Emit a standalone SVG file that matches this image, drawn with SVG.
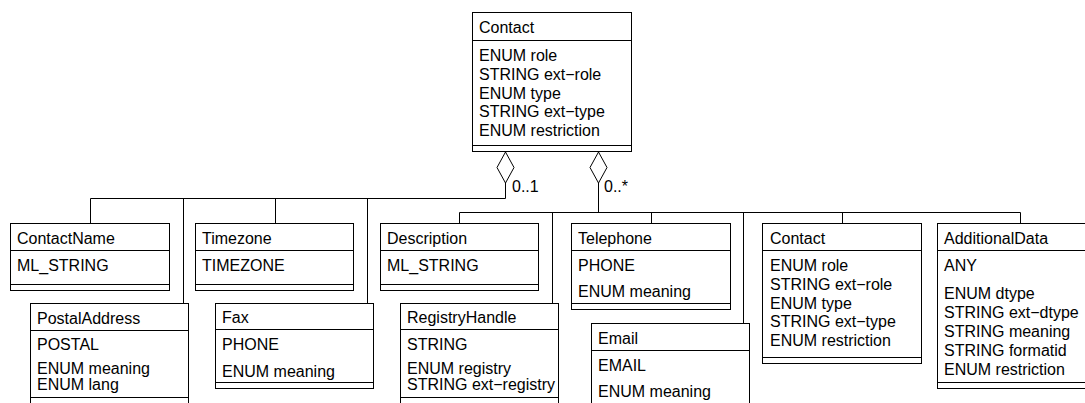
<svg xmlns="http://www.w3.org/2000/svg" width="1085" height="403" viewBox="0 0 1085 403">
<style>
rect.box{fill:#fff;stroke:#000;stroke-width:1}
line,path,polyline{stroke:#000;stroke-width:1;fill:none}
polygon.dia{fill:#fff;stroke:#000;stroke-width:1}
text{font-family:"Liberation Sans",Arial,sans-serif;font-size:16px;fill:#000}
</style>
<rect width="1085" height="403" fill="#fff"/>
<g id="connectors">
<polygon class="dia" points="505.5,152 514,167.5 505.5,183 497,167.5"/>
<polyline points="505.5,183 505.5,198.5 90.5,198.5 90.5,224"/>
<line x1="183.5" y1="198.5" x2="183.5" y2="304"/>
<line x1="275.5" y1="198.5" x2="275.5" y2="224"/>
<line x1="367.5" y1="198.5" x2="367.5" y2="304"/>
<text x="512" y="192">0..1</text>
<polygon class="dia" points="598.5,152 607,167.5 598.5,183 590,167.5"/>
<line x1="598.5" y1="183" x2="598.5" y2="212.5"/>
<line x1="459.5" y1="212.5" x2="1020.5" y2="212.5"/>
<line x1="459.5" y1="212.5" x2="459.5" y2="224"/>
<line x1="552.5" y1="212.5" x2="552.5" y2="304"/>
<line x1="651.5" y1="212.5" x2="651.5" y2="224"/>
<line x1="743.5" y1="212.5" x2="743.5" y2="324"/>
<line x1="842.5" y1="212.5" x2="842.5" y2="224"/>
<line x1="1020.5" y1="212.5" x2="1020.5" y2="224"/>
<text x="604" y="192">0..*</text>
</g>
<g id="contact-top">
<rect class="box" x="472.5" y="12.5" width="159" height="139"/>
<line x1="472.5" y1="40.5" x2="631.5" y2="40.5"/>
<line x1="472.5" y1="145.5" x2="631.5" y2="145.5"/>
<text x="479" y="33">Contact</text>
<text x="479" y="61">ENUM role</text>
<text x="479" y="79.75">STRING ext−role</text>
<text x="479" y="98.5">ENUM type</text>
<text x="479" y="117.25">STRING ext−type</text>
<text x="479" y="136">ENUM restriction</text>
</g>
<g id="contactname">
<rect class="box" x="10.5" y="223.5" width="159" height="67"/>
<line x1="10.5" y1="250.5" x2="169.5" y2="250.5"/>
<line x1="10.5" y1="284.5" x2="169.5" y2="284.5"/>
<text x="17" y="244">ContactName</text>
<text x="17" y="271">ML_STRING</text>
</g>
<g id="postaladdress">
<rect class="box" x="30.5" y="303.5" width="158" height="110"/>
<line x1="30.5" y1="330.5" x2="188.5" y2="330.5"/>
<line x1="30.5" y1="397.5" x2="188.5" y2="397.5"/>
<text x="37" y="324">PostalAddress</text>
<text x="37" y="350">POSTAL</text>
<text x="37" y="374">ENUM meaning</text>
<text x="37" y="390">ENUM lang</text>
</g>
<g id="timezone">
<rect class="box" x="195.5" y="223.5" width="158" height="67"/>
<line x1="195.5" y1="250.5" x2="353.5" y2="250.5"/>
<line x1="195.5" y1="284.5" x2="353.5" y2="284.5"/>
<text x="202" y="244">Timezone</text>
<text x="202" y="271">TIMEZONE</text>
</g>
<g id="fax">
<rect class="box" x="215.5" y="303.5" width="158" height="85"/>
<line x1="215.5" y1="329.5" x2="373.5" y2="329.5"/>
<line x1="215.5" y1="382.5" x2="373.5" y2="382.5"/>
<text x="222" y="323">Fax</text>
<text x="222" y="350">PHONE</text>
<text x="222" y="376.5">ENUM meaning</text>
</g>
<g id="description">
<rect class="box" x="380.5" y="223.5" width="158" height="67"/>
<line x1="380.5" y1="250.5" x2="538.5" y2="250.5"/>
<line x1="380.5" y1="284.5" x2="538.5" y2="284.5"/>
<text x="387" y="244">Description</text>
<text x="387" y="271">ML_STRING</text>
</g>
<g id="registryhandle">
<rect class="box" x="400.5" y="303.5" width="158" height="110"/>
<line x1="400.5" y1="329.5" x2="558.5" y2="329.5"/>
<line x1="400.5" y1="397.5" x2="558.5" y2="397.5"/>
<text x="407" y="323">RegistryHandle</text>
<text x="407" y="350">STRING</text>
<text x="407" y="374">ENUM registry</text>
<text x="407" y="390">STRING ext−registry</text>
</g>
<g id="telephone">
<rect class="box" x="571.5" y="223.5" width="159" height="86"/>
<line x1="571.5" y1="250.5" x2="730.5" y2="250.5"/>
<line x1="571.5" y1="303.5" x2="730.5" y2="303.5"/>
<text x="578" y="244">Telephone</text>
<text x="578" y="271">PHONE</text>
<text x="578" y="297">ENUM meaning</text>
</g>
<g id="email">
<rect class="box" x="591.5" y="323.5" width="158" height="100"/>
<line x1="591.5" y1="350.5" x2="749.5" y2="350.5"/>
<text x="598" y="344">Email</text>
<text x="598" y="370.5">EMAIL</text>
<text x="598" y="397">ENUM meaning</text>
</g>
<g id="contact-child">
<rect class="box" x="762.5" y="223.5" width="159" height="140"/>
<line x1="762.5" y1="250.5" x2="921.5" y2="250.5"/>
<line x1="762.5" y1="357.5" x2="921.5" y2="357.5"/>
<text x="770" y="244">Contact</text>
<text x="770" y="271">ENUM role</text>
<text x="770" y="289.75">STRING ext−role</text>
<text x="770" y="308.5">ENUM type</text>
<text x="770" y="327.25">STRING ext−type</text>
<text x="770" y="346">ENUM restriction</text>
</g>
<g id="additionaldata">
<rect class="box" x="937.5" y="223.5" width="160" height="165"/>
<line x1="937.5" y1="250.5" x2="1097.5" y2="250.5"/>
<line x1="937.5" y1="382.5" x2="1097.5" y2="382.5"/>
<text x="944" y="244">AdditionalData</text>
<text x="944" y="271">ANY</text>
<text x="944" y="298.5">ENUM dtype</text>
<text x="944" y="317.5">STRING ext−dtype</text>
<text x="944" y="336.5">STRING meaning</text>
<text x="944" y="355.5">STRING formatid</text>
<text x="944" y="374.5">ENUM restriction</text>
</g>
</svg>
